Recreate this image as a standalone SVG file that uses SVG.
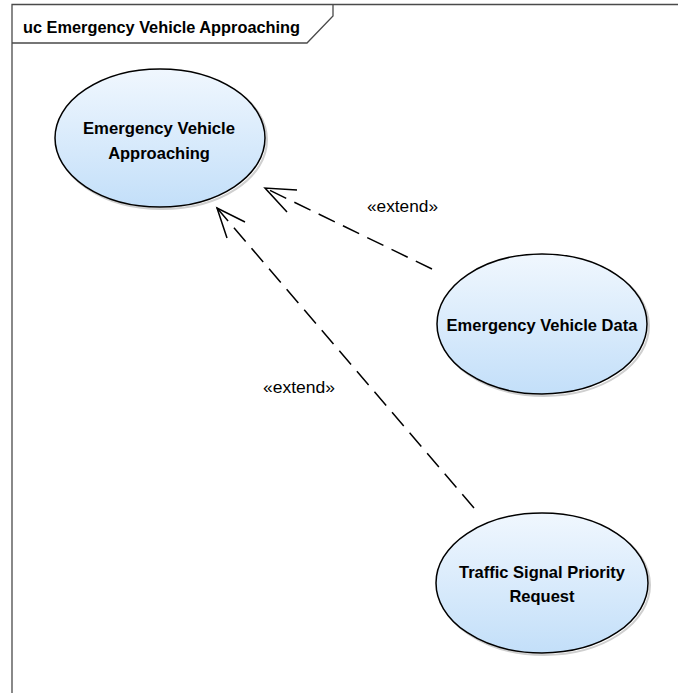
<svg xmlns="http://www.w3.org/2000/svg" width="678" height="693" viewBox="0 0 678 693">
  <defs>
    <linearGradient id="ucFill" x1="0" y1="0" x2="0" y2="1">
      <stop offset="0" stop-color="#f0f7fe"/>
      <stop offset="1" stop-color="#c3dff9"/>
    </linearGradient>
    <style>
      .frame { fill: none; stroke: #4a4a4a; stroke-width: 1.3; }
      .uc { fill: url(#ucFill); stroke: #000; stroke-width: 1.5; }
      .shadow { fill: none; stroke: #cfcfcf; stroke-width: 2; }
      .lbl { font-family: "Liberation Sans", Arial, sans-serif; font-weight: bold; font-size: 16.5px; fill: #000; text-anchor: middle; }
      .title { font-family: "Liberation Sans", Arial, sans-serif; font-weight: bold; font-size: 16.5px; fill: #000; }
      .dep { fill: none; stroke: #000; stroke-width: 1.5; stroke-dasharray: 18 9; }
      .head { fill: none; stroke: #000; stroke-width: 1.5; }
      .stereo { font-family: "Liberation Sans", Arial, sans-serif; font-size: 16px; fill: #000; }
    </style>
  </defs>

  <!-- diagram frame with name tab -->
  <g id="frame">
    <path class="frame" d="M12 693 V4.5 H678"/>
    <path class="frame" d="M12 43 H307 L333 16 V4.5"/>
    <text class="title" x="23" y="33" textLength="277" lengthAdjust="spacingAndGlyphs">uc Emergency Vehicle Approaching</text>
  </g>

  <!-- use cases -->
  <g id="uc-approaching">
    <ellipse class="shadow" cx="162" cy="140" rx="105" ry="69"/>
    <ellipse class="uc" cx="160" cy="138" rx="105" ry="69"/>
    <text class="lbl" x="159" y="134" textLength="152" lengthAdjust="spacingAndGlyphs">Emergency Vehicle</text>
    <text class="lbl" x="159" y="159">Approaching</text>
  </g>

  <g id="uc-vehicle-data">
    <ellipse class="shadow" cx="544" cy="326" rx="105" ry="70"/>
    <ellipse class="uc" cx="542" cy="324" rx="105" ry="70"/>
    <text class="lbl" x="542" y="331">Emergency Vehicle Data</text>
  </g>

  <g id="uc-signal-priority">
    <ellipse class="shadow" cx="544" cy="585" rx="106" ry="70"/>
    <ellipse class="uc" cx="542" cy="583" rx="106" ry="70"/>
    <text class="lbl" x="542" y="578">Traffic Signal Priority</text>
    <text class="lbl" x="542" y="602">Request</text>
  </g>

  <!-- extend relationships -->
  <g id="connectors">
    <path class="dep" d="M432 269 L265 188"/>
    <path class="head" d="M297 190 L265 188 L287 212"/>
    <text class="stereo" x="367" y="212" textLength="71" lengthAdjust="spacingAndGlyphs">«extend»</text>

    <path class="dep" d="M474 508 L217 208"/>
    <path class="head" d="M245 222 L217 208 L227 238"/>
    <text class="stereo" x="263" y="393" textLength="72" lengthAdjust="spacingAndGlyphs">«extend»</text>
  </g>
</svg>
